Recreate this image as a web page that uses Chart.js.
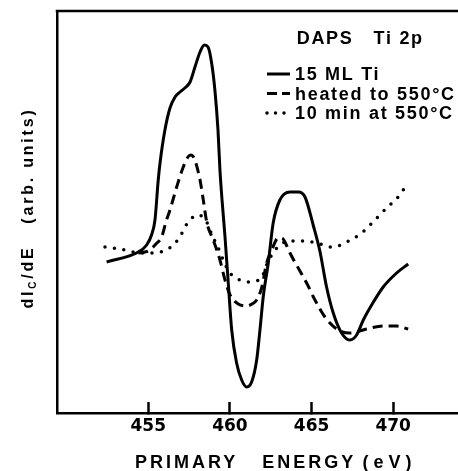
<!DOCTYPE html>
<html>
<head>
<meta charset="utf-8">
<script src="https://cdn.jsdelivr.net/npm/chart.js@4.4.1/dist/chart.umd.min.js"></script>
<style>
html, body { margin: 0; padding: 0; background: #fff; overflow: hidden; }
canvas { display: block; }
</style>
</head>
<body>
<canvas id="spectrum" width="458" height="471"></canvas>
<script>
'use strict';
// primary energy (eV) tick marks
var xTicks = [455, 460, 465, 470];
var seriesLabels = ['15 ML Ti', 'heated to 550\u00b0C', '10 min at 550\u00b0C'];

// 15 ML Ti (solid)
var energyTi = [452.45, 454.39, 454.90, 455.20, 455.41, 455.61, 455.72, 456.02, 456.33, 456.64,
  456.94, 457.31, 457.56, 457.86, 458.17, 458.43, 458.66, 458.88, 459.08, 459.27,
  459.39, 459.70, 459.90, 460.11, 460.41, 460.72, 461.03, 461.33, 461.64, 461.84,
  462.04, 462.35, 462.65, 463.06, 463.68, 464.19, 464.60, 465.10, 465.51, 465.92,
  466.33, 466.84, 467.35, 467.76, 468.17, 468.68, 469.39, 470.21, 470.92];
var signalTi = [15.1, 16.1, 16.8, 17.8, 19.3, 23.3, 25.0, 28.3, 30.5, 31.6,
  32.1, 32.6, 33.1, 34.6, 36.1, 36.8, 36.6, 35.0, 32.3, 28.3,
  24.3, 17.6, 13.0, 8.3, 5.0, 3.3, 2.6, 3.1, 5.3, 8.3,
  11.6, 15.0, 19.0, 21.3, 22.1, 22.1, 21.6, 18.8, 16.2, 12.6,
  10.0, 8.0, 7.3, 7.8, 9.3, 10.8, 12.6, 14.0, 14.9];

// heated to 550 C (dashed)
var energyHeated = [454.39, 454.80, 455.10, 455.47, 455.82, 456.08, 456.33, 456.74, 457.12, 457.43,
  457.60, 457.80, 458.17, 458.37, 458.58, 458.98, 459.39, 459.70, 460.01, 460.51,
  461.03, 461.35, 461.64, 461.94, 462.25, 462.56, 462.96, 463.19, 463.37, 463.68,
  464.29, 464.70, 465.21, 465.82, 466.54, 467.35, 468.37, 469.39, 470.21, 470.92];
var signalHeated = [16.0, 16.1, 16.3, 16.9, 17.6, 19.1, 20.3, 22.6, 24.5, 25.6,
  25.8, 25.5, 23.3, 21.3, 19.1, 17.3, 15.3, 13.3, 11.8, 10.9,
  10.7, 10.9, 11.3, 12.5, 15.0, 16.3, 17.5, 17.5, 17.1, 16.0,
  14.2, 13.0, 11.3, 9.6, 8.4, 8.0, 8.4, 8.7, 8.7, 8.4];

// 10 min at 550 C (dotted)
var energyAnneal = [452.35, 453.27, 454.08, 454.80, 455.31, 455.72, 456.13, 456.51, 456.94, 457.25,
  457.55, 458.06, 458.58, 458.90, 459.29, 459.64, 460.00, 460.62, 461.23, 461.60,
  461.94, 462.25, 462.56, 463.06, 463.68, 464.49, 465.51, 466.13, 466.64, 467.15,
  468.07, 468.88, 469.60, 470.31, 470.82];
var signalAnneal = [16.6, 16.4, 16.1, 16.0, 16.0, 16.1, 16.3, 16.8, 17.6, 18.6,
  19.3, 19.8, 19.1, 17.8, 16.5, 15.1, 14.0, 13.3, 13.1, 13.2,
  13.5, 14.8, 15.8, 16.8, 17.2, 17.2, 16.9, 16.6, 16.7, 17.1,
  18.0, 19.3, 20.5, 21.6, 22.8];

function toPoints(xs, ys) {
  var pts = [];
  for (var i = 0; i < xs.length; i++) {
    pts.push({x: xs[i], y: ys[i]});
  }
  return pts;
}

var labelFont = '"Liberation Sans", Arial, sans-serif';

var framePlugin = {
  id: 'frame',
  beforeDatasetsDraw: function(chart) {
    var ctx = chart.ctx;
    var area = chart.chartArea;
    ctx.save();
    ctx.strokeStyle = '#000';
    ctx.lineWidth = 2.5;
    ctx.beginPath();
    ctx.moveTo(area.left - 1.25, area.top);
    ctx.lineTo(chart.width, area.top);
    ctx.stroke();
    ctx.restore();
  }
};

var textPlugin = {
  id: 'texts',
  afterDatasetsDraw: function(chart) {
    var ctx = chart.ctx;
    ctx.save();
    ctx.fillStyle = '#000';
    ctx.textBaseline = 'alphabetic';
    ctx.textAlign = 'left';

    // heading + legend
    ctx.font = 'bold 18px ' + labelFont;
    ctx.letterSpacing = '1.7px';
    ctx.fillText('DAPS   Ti 2p', 296.7, 44.3);
    chart.data.datasets.forEach(function(ds, i) {
      var base = 80 + i * 19.5;
      ctx.save();
      ctx.strokeStyle = ds.borderColor;
      ctx.lineWidth = ds.borderWidth;
      ctx.lineCap = ds.borderCapStyle || 'butt';
      ctx.setLineDash(ds.legendDash || []);
      ctx.beginPath();
      ctx.moveTo(267, base - 6);
      ctx.lineTo(290, base - 6);
      ctx.stroke();
      ctx.restore();
      ctx.fillText(ds.label, 295, base);
    });

    // x title
    ctx.letterSpacing = '3px';
    ctx.fillText('PRIMARY   ENERGY', 135, 467.7);
    ctx.letterSpacing = '5px';
    ctx.fillText('(eV)', 362.5, 467.7);

    // y title, rotated, with subscript C
    ctx.translate(33.3, 208);
    ctx.rotate(-Math.PI / 2);
    ctx.letterSpacing = '2.8px';
    var parts = [
      {t: 'dI', f: 'bold 16px ' + labelFont, dy: 0},
      {t: 'C', f: 'bold 10px ' + labelFont, dy: 2.5},
      {t: '/dE   (arb. units)', f: 'bold 16px ' + labelFont, dy: 0}
    ];
    var total = 0;
    parts.forEach(function(p) { ctx.font = p.f; p.w = ctx.measureText(p.t).width; total += p.w; });
    var x = -total / 2;
    parts.forEach(function(p) { ctx.font = p.f; ctx.fillText(p.t, x, p.dy); x += p.w; });
    ctx.restore();
  }
};

new Chart(document.getElementById('spectrum'), {
  type: 'line',
  data: {
    datasets: [{
      label: seriesLabels[0],
      data: toPoints(energyTi, signalTi),
      borderColor: '#000',
      borderWidth: 3,
      legendDash: []
    }, {
      label: seriesLabels[1],
      data: toPoints(energyHeated, signalHeated),
      borderColor: '#000',
      borderWidth: 3,
      borderDash: [10, 6],
      legendDash: [10, 5]
    }, {
      label: seriesLabels[2],
      data: toPoints(energyAnneal, signalAnneal),
      borderColor: '#000',
      borderWidth: 3.5,
      borderDash: [0, 9.5],
      borderCapStyle: 'round',
      legendDash: [0, 8.5]
    }]
  },
  options: {
    responsive: false,
    animation: false,
    layout: {padding: {top: 11, right: 0, left: 0, bottom: 0}},
    elements: {
      point: {radius: 0},
      line: {cubicInterpolationMode: 'monotone', fill: false}
    },
    plugins: {legend: {display: false}, tooltip: {enabled: false}},
    scales: {
      x: {
        type: 'linear',
        min: 449.41,
        max: 473.97,
        afterBuildTicks: function(scale) {
          scale.ticks = xTicks.map(function(v) { return {value: v}; });
        },
        afterFit: function(scale) { scale.height = 58; },
        ticks: {
          color: '#000',
          font: {family: 'DejaVu Sans', weight: 'bold', size: 17},
          padding: 14,
          maxRotation: 0,
          autoSkip: false
        },
        grid: {drawOnChartArea: false, tickLength: -11, tickWidth: 2.5, tickColor: '#000'},
        border: {color: '#000', width: 2.5}
      },
      y: {
        min: 0,
        max: 40.2,
        afterFit: function(scale) { scale.width = 57; },
        ticks: {display: false},
        grid: {drawOnChartArea: false, drawTicks: false},
        border: {color: '#000', width: 2.5}
      }
    }
  },
  plugins: [framePlugin, textPlugin]
});
</script>
</body>
</html>
